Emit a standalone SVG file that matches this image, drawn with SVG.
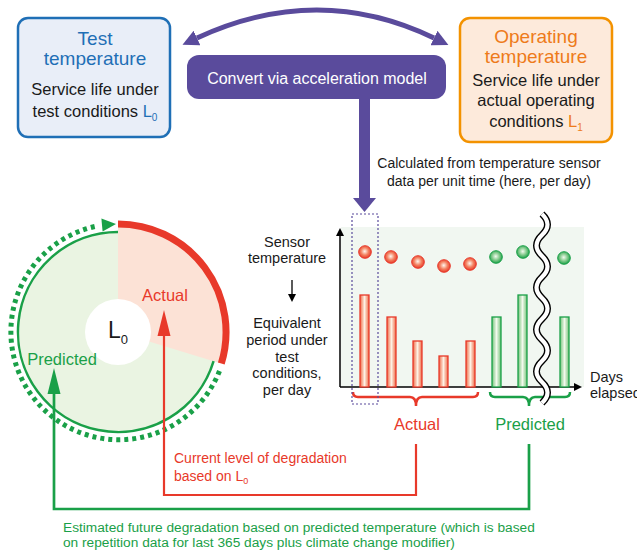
<svg xmlns="http://www.w3.org/2000/svg" width="637" height="552" viewBox="0 0 637 552">
<style>
text{font-family:"Liberation Sans",Arial,sans-serif;}
.blk{fill:#1a1a1a}
.c{text-anchor:middle}
.red{fill:#e8392a}
.grn{fill:#1aa048}
.barR{fill:url(#barRed);stroke:#e8392a;stroke-width:1.3}
.barG{fill:url(#barGrn);stroke:#1aa048;stroke-width:1.3}
.ballR{fill:url(#ballRed);stroke:#e8392a;stroke-width:1}
.ballG{fill:url(#ballGrn);stroke:#1aa048;stroke-width:1}
</style>
<defs>
<linearGradient id="barRed" x1="0" y1="0" x2="1" y2="0"><stop offset="0" stop-color="#ef6a47"/><stop offset="0.5" stop-color="#fdf1e4"/><stop offset="1" stop-color="#ef6a47"/></linearGradient>
<linearGradient id="barGrn" x1="0" y1="0" x2="1" y2="0"><stop offset="0" stop-color="#74c27a"/><stop offset="0.5" stop-color="#f2f9ec"/><stop offset="1" stop-color="#74c27a"/></linearGradient>
<radialGradient id="ballRed" cx="0.48" cy="0.45" r="0.55"><stop offset="0" stop-color="#fff6ee"/><stop offset="0.55" stop-color="#f3805f"/><stop offset="1" stop-color="#e8392a"/></radialGradient>
<radialGradient id="ballGrn" cx="0.48" cy="0.45" r="0.55"><stop offset="0" stop-color="#f3fbef"/><stop offset="0.55" stop-color="#80c98a"/><stop offset="1" stop-color="#1aa048"/></radialGradient>
<marker id="pArrow" viewBox="0 0 16 16" refX="0" refY="8" markerWidth="16" markerHeight="16" markerUnits="userSpaceOnUse" orient="auto-start-reverse"><path d="M0,0 L16,8 L0,16 z" fill="#5a4b9c"/></marker>
<marker id="kArrow" viewBox="0 0 10 10" refX="0" refY="5" markerWidth="8" markerHeight="8" markerUnits="userSpaceOnUse" orient="auto"><path d="M0,0 L10,5 L0,10 z" fill="#000"/></marker>
</defs>
<rect width="637" height="552" fill="#fff"/>

<g id="box-test">
<rect x="18" y="18" width="152" height="119" rx="10" fill="#e9eef8" stroke="#1f6fb6" stroke-width="2.5"/>
<text x="95" y="45" class="c" font-size="19" fill="#1f6fb6">Test</text>
<text x="95" y="65" class="c" font-size="19" fill="#1f6fb6">temperature</text>
<text x="95" y="95" class="c blk" font-size="16.5">Service life under</text>
<text x="95" y="117" class="c blk" font-size="16.5">test conditions <tspan fill="#1f6fb6">L</tspan><tspan fill="#1f6fb6" font-size="10" dy="4">0</tspan></text>
</g>

<g id="box-operating">
<rect x="460" y="18" width="152" height="124" rx="10" fill="#fdeadb" stroke="#f39200" stroke-width="2.5"/>
<text x="536" y="43" class="c" font-size="19" fill="#ee7b1a">Operating</text>
<text x="536" y="63" class="c" font-size="19" fill="#ee7b1a">temperature</text>
<text x="536" y="86" class="c blk" font-size="16.5">Service life under</text>
<text x="536" y="106" class="c blk" font-size="16.5">actual operating</text>
<text x="536" y="127" class="c blk" font-size="16.5">conditions <tspan fill="#ee7b1a">L</tspan><tspan fill="#ee7b1a" font-size="10" dy="4">1</tspan></text>
</g>

<g id="box-convert">
<rect x="187" y="55" width="259" height="44" rx="12" fill="#5a4b9c"/>
<text x="317" y="84" class="c" font-size="16" fill="#fff">Convert via acceleration model</text>
</g>

<g id="note-calc">
<text x="489" y="168" class="c blk" font-size="14">Calculated from temperature sensor</text>
<text x="489" y="186" class="c blk" font-size="14">data per unit time (here, per day)</text>
</g>

<g id="gauge">
<circle cx="118" cy="332" r="100" fill="#eaf4e2"/>
<path d="M118,332 L118,226 A106,106 0 0 1 219.4,363 Z" fill="#fce2d6"/>
<path d="M213.6,361.2 A100,100 0 1 1 118,232" fill="none" stroke="#1aa048" stroke-width="2.5"/>
<path d="M118,224 A108,108 0 0 1 221.3,363.6" fill="none" stroke="#e8392a" stroke-width="7"/>
<path d="M219.5,371 A108,108 0 1 1 97,226" fill="none" stroke="#1aa048" stroke-width="5" stroke-dasharray="4 4"/>
<polygon points="116,224 101.4,218.5 102.6,231.5" fill="#1aa048"/>
<circle cx="118" cy="332" r="33" fill="#fff"/>
<text x="108" y="338" font-size="23" class="blk">L<tspan font-size="13" dy="6">0</tspan></text>
<text x="165" y="301" class="c red" font-size="16.5">Actual</text>
<text x="62" y="365" class="c grn" font-size="16.5">Predicted</text>
</g>

<g id="chart">
<rect x="341" y="227" width="243" height="160" fill="#f1f7f1"/>
<line x1="340" y1="387" x2="340" y2="236" stroke="#000" stroke-width="1.5" marker-end="url(#kArrow)"/>
<line x1="340" y1="387" x2="574" y2="387" stroke="#000" stroke-width="1.5" marker-end="url(#kArrow)"/>
<rect class="barR" x="360" y="295" width="9" height="92"/>
<rect class="barR" x="387" y="317" width="9" height="70"/>
<rect class="barR" x="413" y="341" width="9" height="46"/>
<rect class="barR" x="439" y="356" width="9" height="31"/>
<rect class="barR" x="466" y="341" width="9" height="46"/>
<rect class="barG" x="492" y="317" width="9" height="70"/>
<rect class="barG" x="518" y="295" width="9" height="92"/>
<rect class="barG" x="560" y="317" width="9" height="70"/>
<circle class="ballR" cx="365" cy="252" r="6.3"/>
<circle class="ballR" cx="391" cy="257" r="6.3"/>
<circle class="ballR" cx="418" cy="262" r="6.3"/>
<circle class="ballR" cx="444" cy="266" r="6.3"/>
<circle class="ballR" cx="470" cy="264" r="6.3"/>
<circle class="ballG" cx="496" cy="257" r="6.3"/>
<circle class="ballG" cx="523" cy="252" r="6.3"/>
<circle class="ballG" cx="564" cy="258" r="6.3"/>
<path d="M353,392 q0,5 5,5 L410,397 q6,0 6,9 q0,-9 6,-9 L473,397 q5,0 5,-5" fill="none" stroke="#e8392a" stroke-width="2.5"/>
<path d="M490,392 q0,5 5,5 L523,397 q6,0 6,9 q0,-9 6,-9 L565,397 q5,0 5,-5" fill="none" stroke="#1aa048" stroke-width="2.5"/>
<path d="M542,214 q11,10.5 0,21 t0,21 t0,21 t0,21 t0,21 t0,21 t0,21 t0,21 t0,21" fill="none" stroke="#000" stroke-width="7"/>
<path d="M542,214 q11,10.5 0,21 t0,21 t0,21 t0,21 t0,21 t0,21 t0,21 t0,21 t0,21" fill="none" stroke="#fff" stroke-width="4.2"/>
<rect x="352" y="214" width="26" height="190" fill="none" stroke="#5a4b9c" stroke-width="1.2" stroke-dasharray="2 2"/>
<text x="287" y="247" class="c blk" font-size="14.5">Sensor</text>
<text x="287" y="263" class="c blk" font-size="14.5">temperature</text>
<line x1="292" y1="280" x2="292" y2="294" stroke="#000" stroke-width="1.3" marker-end="url(#kArrow)"/>
<text x="287" y="328" class="c blk" font-size="14.5">Equivalent</text>
<text x="287" y="345" class="c blk" font-size="14.5">period under</text>
<text x="287" y="362" class="c blk" font-size="14.5">test</text>
<text x="287" y="378" class="c blk" font-size="14.5">conditions,</text>
<text x="287" y="395" class="c blk" font-size="14.5">per day</text>
<text x="590" y="382" class="blk" font-size="14.5">Days</text>
<text x="590" y="398" class="blk" font-size="14.5">elapsed</text>
<text x="417" y="430" class="c red" font-size="16.5">Actual</text>
<text x="530" y="430" class="c grn" font-size="16.5">Predicted</text>
</g>

<g id="connectors">
<path d="M197,38 Q318,-18 434,38" fill="none" stroke="#5a4b9c" stroke-width="5" marker-start="url(#pArrow)" marker-end="url(#pArrow)"/>
<rect x="359" y="99" width="11" height="100" fill="#5a4b9c"/>
<polygon points="353,198 376,198 364.5,212" fill="#5a4b9c"/>
<polyline points="416,444 416,495 164,495 164,334" fill="none" stroke="#e8392a" stroke-width="2.2"/>
<polygon points="164,310 157.5,336 170.5,336" fill="#e8392a"/>
<polyline points="529,444 529,509 54,509 54,392" fill="none" stroke="#1aa048" stroke-width="2.7"/>
<polygon points="54,368 47.5,394 60.5,394" fill="#1aa048"/>
</g>

<g id="notes">
<text x="174" y="463" class="red" font-size="14">Current level of degradation</text>
<text x="174" y="481" class="red" font-size="14">based on L<tspan font-size="9" dy="3">0</tspan></text>
<text x="63" y="532" class="grn" font-size="13.7">Estimated future degradation based on predicted temperature (which is based</text>
<text x="63" y="547" class="grn" font-size="13.7">on repetition data for last 365 days plus climate change modifier)</text>
</g>
</svg>
